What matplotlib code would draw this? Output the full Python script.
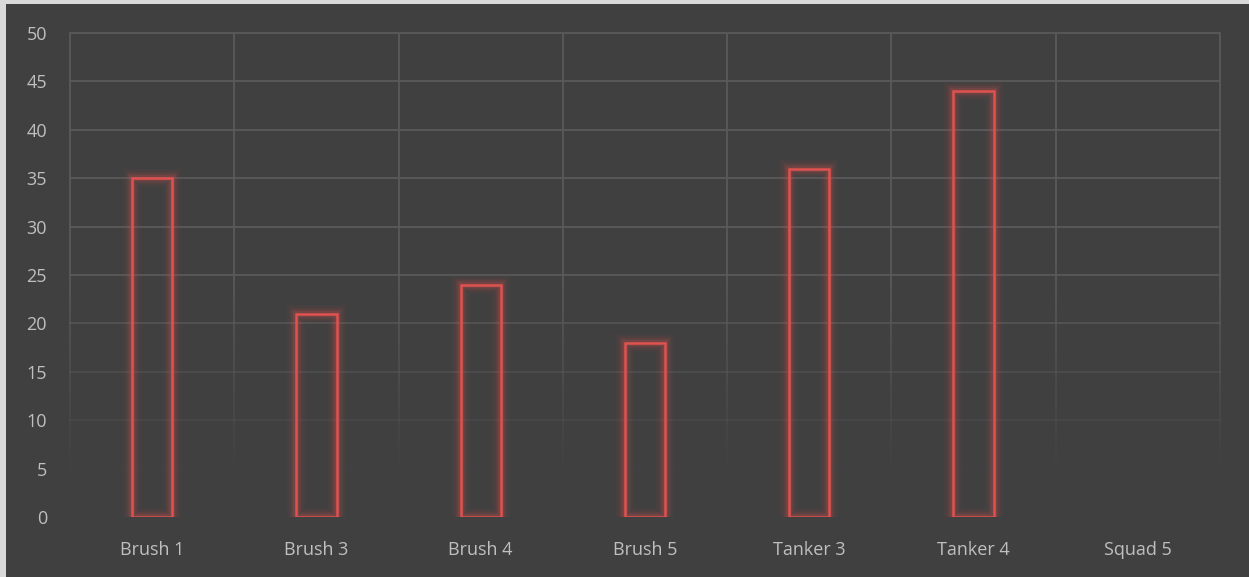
import numpy as np
import matplotlib.pyplot as plt
from matplotlib.collections import LineCollection
from matplotlib.patches import Rectangle

# ── Data ──────────────────────────────────────────────────────────────
categories = ["Brush 1", "Brush 3", "Brush 4", "Brush 5", "Tanker 3", "Tanker 4", "Squad 5"]
values = [35, 21, 24, 18, 36, 44, 0]
y_ticks = [0, 5, 10, 15, 20, 25, 30, 35, 40, 45, 50]

BG = "#404040"
GRID = "#5a5a5a"
TEXT = "#bfbfbf"
BAR = "#e0524f"

plt.rcParams["font.family"] = ["Open Sans", "DejaVu Sans"]

fig = plt.figure(figsize=(12.49, 5.77), dpi=100)
fig.patch.set_facecolor("#d9d9d9")
# dark panel inset slightly from the top-left edge
fig.patches.append(Rectangle((6 / 1249, 0), 1, 1 - 4 / 577, transform=fig.transFigure,
                             facecolor=BG, edgecolor="none", zorder=-10))

ax = fig.add_axes([70 / 1249, 1 - 517 / 577, 1150 / 1249, 484 / 577])
ax.set_zorder(1)
ax.set_facecolor(BG)
n = len(categories)
x = np.arange(n)
ax.set_xlim(-0.5, n - 0.5)
ax.set_ylim(0, 50)

# ── Grid that fades out toward the bottom ─────────────────────────────
def fade(y):
    return float(np.clip((y - 4) / 22, 0, 1))

for yt in y_ticks[1:]:
    a = fade(yt)
    if a > 0:
        ax.axhline(yt, color=GRID, lw=1.3, alpha=a, zorder=1, clip_on=False)

ys = np.linspace(0, 50, 101)
segs, cols = [], []
for xb in np.arange(n + 1) - 0.5:
    for y0, y1 in zip(ys[:-1], ys[1:]):
        a = fade((y0 + y1) / 2)
        if a > 0:
            segs.append([(xb, y0), (xb, y1)])
            cols.append((0x5a / 255, 0x5a / 255, 0x5a / 255, a))
ax.add_collection(LineCollection(segs, colors=cols, linewidths=1.3, zorder=1, clip_on=False))

# ── Outlined bars with a soft red glow ────────────────────────────────
bx = [xi for xi, v in zip(x, values) if v > 0]
bv = [v for v in values if v > 0]
width = 0.245
for lw, a in [(13, 0.04), (10, 0.06), (7, 0.10), (4.5, 0.16)]:
    ax.bar(bx, bv, width=width, fill=False, edgecolor=BAR, linewidth=lw, alpha=a,
           joinstyle="miter", zorder=2)
ax.bar(bx, bv, width=width, fill=False, edgecolor=BAR, linewidth=1.8, zorder=3)

# ── Axes styling ──────────────────────────────────────────────────────
for s in ax.spines.values():
    s.set_visible(False)
ax.set_yticks(y_ticks)
ax.set_xticks(x)
ax.set_xticklabels(categories)
ax.tick_params(axis="both", length=0, colors=TEXT, labelsize=13)
ax.tick_params(axis="y", pad=16.5)
ax.tick_params(axis="x", pad=17)

fig.savefig("out.png", dpi=100, facecolor=fig.get_facecolor())
